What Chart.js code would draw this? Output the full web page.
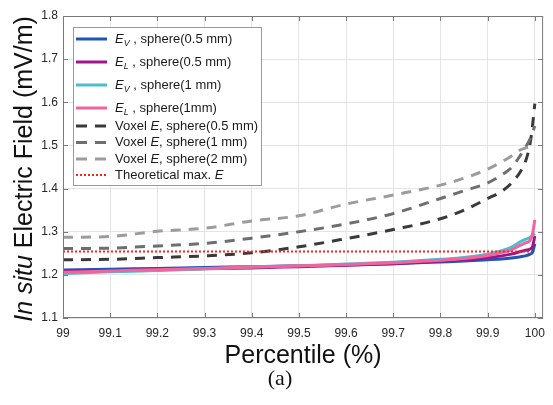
<!DOCTYPE html>
<html><head><meta charset="utf-8">
<script src="https://cdn.jsdelivr.net/npm/chart.js@4/dist/chart.umd.min.js"></script>
<style>html,body{margin:0;padding:0;background:#fff;}#wrap{width:553px;height:405px;position:relative;}</style>
</head><body><div id="wrap"><canvas id="c" width="553" height="405"></canvas></div>
<script>
// ---- data ----
const percentile = [99, 99.1, 99.2, 99.3, 99.4, 99.5, 99.6, 99.7, 99.8, 99.85, 99.9, 99.93, 99.95, 99.97, 99.98, 99.99, 99.995, 100];
const evSphere05 = [1.211,1.213,1.215,1.217,1.219,1.221,1.223,1.226,1.230,1.232,1.235,1.237,1.239,1.242,1.244,1.248,1.252,1.272];
const elSphere05 = [1.208,1.210,1.212,1.214,1.216,1.219,1.222,1.226,1.232,1.235,1.240,1.244,1.248,1.254,1.257,1.260,1.265,1.290];
const evSphere1  = [1.203,1.207,1.210,1.214,1.218,1.221,1.225,1.229,1.236,1.240,1.248,1.256,1.264,1.277,1.282,1.287,1.291,1.296];
const elSphere1  = [1.206,1.209,1.212,1.215,1.218,1.221,1.224,1.228,1.234,1.238,1.245,1.252,1.258,1.269,1.274,1.280,1.295,1.328];
const voxelSphere05 = [1.235,1.236,1.240,1.244,1.251,1.265,1.284,1.305,1.330,1.350,1.377,1.394,1.412,1.440,1.462,1.505,1.545,1.597];
const voxelSphere1  = [1.261,1.262,1.267,1.273,1.285,1.300,1.318,1.342,1.377,1.395,1.413,1.432,1.448,1.478,1.495,1.515,1.530,1.545];
const voxelSphere2  = [1.287,1.289,1.301,1.308,1.325,1.337,1.364,1.385,1.408,1.424,1.445,1.462,1.475,1.490,1.494,1.497,1.499,1.500];
const theoreticalX = [99, 99.994];
const theoreticalY = [1.254, 1.254];
const xTickValues = [99, 99.1, 99.2, 99.3, 99.4, 99.5, 99.6, 99.7, 99.8, 99.9, 100];
const yTickValues = [1.1, 1.2, 1.3, 1.4, 1.5, 1.6, 1.7, 1.8];
const seriesNames = ['E_V , sphere(0.5 mm)','E_L , sphere(0.5 mm)','E_V , sphere(1 mm)','E_L , sphere(1mm)',
  'Voxel E, sphere(0.5 mm)','Voxel E, sphere(1 mm)','Voxel E, sphere(2 mm)','Theoretical max. E'];
// rich legend labels: [text, style] where style: n normal, i italic, s italic subscript
const legendRich = [
  [['E','i'],['V','s'],[' , sphere(0.5 mm)','n']],
  [['E','i'],['L','s'],[' , sphere(0.5 mm)','n']],
  [['E','i'],['V','s'],[' , sphere(1 mm)','n']],
  [['E','i'],['L','s'],[' , sphere(1mm)','n']],
  [['Voxel ','n'],['E','i'],[', sphere(0.5 mm)','n']],
  [['Voxel ','n'],['E','i'],[', sphere(1 mm)','n']],
  [['Voxel ','n'],['E','i'],[', sphere(2 mm)','n']],
  [['Theoretical max. ','n'],['E','i']]
];

const FONT = '"Liberation Sans", Arial, Helvetica, sans-serif';
Chart.defaults.font.family = FONT;

const pts = (xs, ys) => xs.map((x, i) => ({x: x, y: ys[i]}));
const seriesY = [evSphere05, elSphere05, evSphere1, elSphere1, voxelSphere05, voxelSphere1, voxelSphere2];
const colors = ['#1f55b4', '#a0168a', '#4cbdcc', '#f2649e', '#3a3a3a', '#6e6e6e', '#9c9c9c', '#ff1f1f'];
const dashes = [[], [], [], [], [10, 8], [10, 8], [10, 8], [2, 2]];
const widths = [3, 3, 3, 3, 3, 3, 3, 2];

const datasets = seriesNames.map((name, i) => ({
  label: name,
  data: i < 7 ? pts(percentile, seriesY[i]) : pts(theoreticalX, theoreticalY),
  borderColor: colors[i],
  backgroundColor: colors[i],
  borderWidth: widths[i],
  borderDash: dashes[i],
  pointRadius: 0,
  fill: false,
  cubicInterpolationMode: 'monotone',
  order: seriesNames.length - i
}));

const decor = {
  id: 'decor',
  afterDraw(chart) {
    const ctx = chart.ctx, a = chart.chartArea, xs = chart.scales.x, ys = chart.scales.y;
    ctx.save();
    // axes box
    ctx.strokeStyle = '#7a7a7a';
    ctx.lineWidth = 1;
    ctx.strokeRect(a.left + 0.5, a.top + 0.5, a.right - a.left - 1, a.bottom - a.top - 1);
    // inward tick marks
    ctx.beginPath();
    xTickValues.forEach(v => {
      const px = Math.round(xs.getPixelForValue(v)) + 0.5;
      ctx.moveTo(px, a.bottom); ctx.lineTo(px, a.bottom - 5);
      ctx.moveTo(px, a.top); ctx.lineTo(px, a.top + 5);
    });
    yTickValues.forEach(v => {
      const py = Math.round(ys.getPixelForValue(v)) + 0.5;
      ctx.moveTo(a.left, py); ctx.lineTo(a.left + 5, py);
      ctx.moveTo(a.right, py); ctx.lineTo(a.right - 5, py);
    });
    ctx.stroke();

    // legend
    const L = {x: 73, y: 27, w: 188, h: 158};
    ctx.fillStyle = '#fff';
    ctx.fillRect(L.x, L.y, L.w, L.h);
    ctx.strokeStyle = '#9a9a9a';
    ctx.strokeRect(L.x + 0.5, L.y + 0.5, L.w, L.h);
    const rowsY = [39, 62, 85, 108, 126, 142.5, 159, 175];
    chart.data.datasets.forEach((ds, i) => {
      const y = rowsY[i];
      ctx.save();
      ctx.strokeStyle = ds.borderColor;
      ctx.lineWidth = ds.borderWidth;
      if (i >= 4 && i < 7) ctx.setLineDash([11, 8]);
      else ctx.setLineDash(ds.borderDash);
      ctx.beginPath();
      ctx.moveTo(76, y); ctx.lineTo(107, y);
      ctx.stroke();
      ctx.restore();
      let tx = 115;
      ctx.fillStyle = '#1a1a1a';
      ctx.textBaseline = 'middle';
      ctx.textAlign = 'left';
      legendRich[i].forEach(([t, s]) => {
        let dy = 0;
        if (s === 'n') ctx.font = '13px ' + FONT;
        else if (s === 'i') ctx.font = 'italic 13px ' + FONT;
        else { ctx.font = 'italic 9px ' + FONT; dy = 4; }
        ctx.fillText(t, tx, y + dy);
        tx += ctx.measureText(t).width;
      });
    });

    // x title
    ctx.fillStyle = '#111';
    ctx.textAlign = 'center';
    ctx.textBaseline = 'alphabetic';
    ctx.font = '25px ' + FONT;
    ctx.fillText('Percentile (%)', (a.left + a.right) / 2, 363);
    ctx.font = '22px "Liberation Serif", "Times New Roman", serif';
    ctx.fillText('(a)', 280, 385);

    // y title with italic part
    ctx.save();
    ctx.translate(25, (a.top + a.bottom) / 2 + 2);
    ctx.rotate(-Math.PI / 2);
    ctx.textAlign = 'left';
    ctx.textBaseline = 'middle';
    const p1 = 'In situ', p2 = ' Electric Field (mV/m)';
    ctx.font = 'italic 25px ' + FONT;
    const w1 = ctx.measureText(p1).width;
    ctx.font = '25px ' + FONT;
    const w2 = ctx.measureText(p2).width;
    let sx = -(w1 + w2) / 2;
    ctx.font = 'italic 25px ' + FONT;
    ctx.fillText(p1, sx, 0);
    ctx.font = '25px ' + FONT;
    ctx.fillText(p2, sx + w1, 0);
    ctx.restore();
    ctx.restore();
  }
};

new Chart(document.getElementById('c'), {
  type: 'line',
  data: {datasets: datasets},
  options: {
    responsive: false,
    animation: false,
    devicePixelRatio: 1,
    layout: {padding: {left: 0, top: 16, right: 9, bottom: 0}},
    plugins: {legend: {display: false}, tooltip: {enabled: false}},
    scales: {
      x: {
        type: 'linear', min: 99, max: 100.0175,
        afterFit: s => { s.height = 87; },
        afterBuildTicks: s => { s.ticks = xTickValues.map(v => ({value: v})); },
        grid: {color: '#e4e4e4', drawTicks: false},
        border: {display: false},
        ticks: {padding: 8, color: '#262626', font: {size: 12}, maxRotation: 0, autoSkip: false,
          callback: v => String(v)}
      },
      y: {
        type: 'linear', min: 1.1, max: 1.8,
        afterFit: s => { s.width = 63; },
        afterBuildTicks: s => { s.ticks = yTickValues.map(v => ({value: v})); },
        grid: {color: '#e4e4e4', drawTicks: false},
        border: {display: false},
        ticks: {padding: 5, color: '#262626', font: {size: 12}, autoSkip: false,
          callback: v => Number(v).toFixed(1)}
      }
    }
  },
  plugins: [decor]
});
</script></body></html>
